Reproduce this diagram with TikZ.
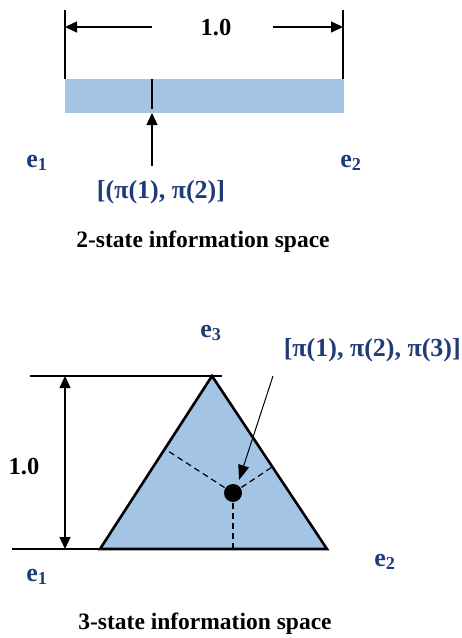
\documentclass[tikz,border=0pt]{standalone}
\usepackage{fontspec}
\setmainfont{Liberation Serif}
\usetikzlibrary{arrows.meta,calc}
\definecolor{barblue}{RGB}{164,196,230}
\definecolor{txtblue}{RGB}{31,60,120}
\begin{document}
\begin{tikzpicture}[x=1pt,y=-1pt,
  lbl/.style={font=\fontsize{26}{30}\selectfont\bfseries, text=txtblue, inner sep=0pt},
  captxt/.style={font=\fontsize{23.5}{27}\selectfont\bfseries, text=black, inner sep=0pt},
  numtxt/.style={font=\fontsize{24.5}{28}\selectfont\bfseries, text=black, inner sep=0pt},
  tipstyle/.style={-{Triangle[length=12pt,width=11pt]}},
  dimline/.style={line width=1.3pt, tipstyle},
  dimdouble/.style={line width=1.3pt, {Triangle[length=12pt,width=11pt]}-{Triangle[length=12pt,width=11pt]}},
  extline/.style={line width=1.3pt},
  dashline/.style={line width=1.2pt, dash pattern=on 6pt off 4pt},
]
\useasboundingbox (0,0) rectangle (462,638);

% ---------- 2-state ----------
\coordinate (barTL) at (65,79);
\coordinate (barBR) at (344,113);
\fill[barblue] (barTL) rectangle (barBR);
\coordinate (L1top) at (65,10);
\coordinate (L1bot) at (65,79);
\coordinate (R1top) at (343,10);
\coordinate (R1bot) at (343,79);
\draw[extline] (L1top) -- (L1bot);
\draw[extline] (R1top) -- (R1bot);
\node[numtxt] (one1) at (216,28) {1.0};
\coordinate (dlstart) at (152,27);
\coordinate (dlend) at (65,27);
\coordinate (drstart) at (273,27);
\coordinate (drend) at (343,27);
\draw[dimline] (dlstart) -- (dlend);
\draw[dimline] (drstart) -- (drend);
\coordinate (tk1) at (152,79);
\coordinate (tk2) at (152,109);
\draw[extline] (tk1) -- (tk2);
\coordinate (ptrA) at (152,166);
\coordinate (ptrB) at (152,113);
\draw[dimline] (ptrA) -- (ptrB);
\node[lbl] (e1a) at (37,163) {e\textsubscript{1}};
\node[lbl] (e2a) at (351,163) {e\textsubscript{2}};
\node[lbl] (pi2) at (161,192) {[(π(1), π(2)]};
\node[captxt] (cap2) at (203,242) {2-state information space};

% ---------- 3-state ----------
\coordinate (A) at (212,376);
\coordinate (B1) at (100,549);
\coordinate (B2) at (327,549);
\coordinate (P) at (233,493);
\fill[barblue] (B1) -- (A) -- (B2) -- cycle;
\draw[dashline] (P) -- ($(B1)!(P)!(A)$);
\draw[dashline] (P) -- ($(B2)!(P)!(A)$);
\draw[dashline] (P) -- ($(B1)!(P)!(B2)$);
\draw[line width=2.6pt, line join=miter] (B1) -- (A) -- (B2) -- cycle;
\coordinate (topL) at (30,376);
\coordinate (topR) at (222,376);
\coordinate (botL) at (12,549);
\draw[extline] (topL) -- (topR);
\draw[extline] (botL) -- (B1);
\coordinate (vA) at (65,376);
\coordinate (vB) at (65,549);
\draw[dimdouble] (vA) -- (vB);
\node[numtxt] (one2) at (24,467) {1.0};
\fill (P) circle (9);
\coordinate (ptr3A) at (273,376);
\coordinate (ptr3B) at (239,480);
\draw[line width=1pt, -{Triangle[length=15pt,width=11pt]}] (ptr3A) -- (ptr3B);
\node[lbl] (e3b) at (211,333) {e\textsubscript{3}};
\node[lbl, anchor=east] (pi3) at (461,350) {[π(1), π(2), π(3)]};
\node[lbl] (e1b) at (37,577) {e\textsubscript{1}};
\node[lbl] (e2b) at (385,562) {e\textsubscript{2}};
\node[captxt] (cap3) at (205,624) {3-state information space};
\end{tikzpicture}
\end{document}
